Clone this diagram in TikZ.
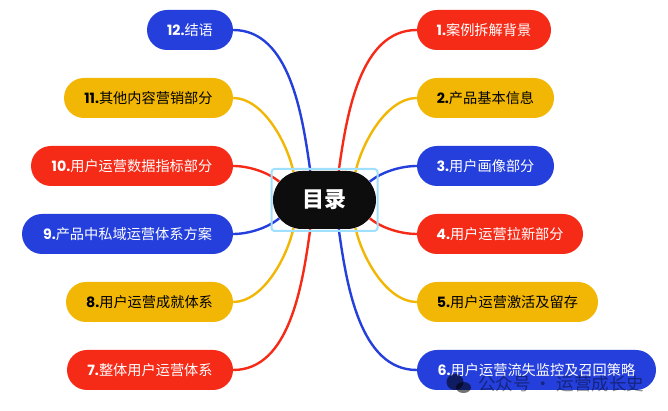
\documentclass[tikz,border=0pt]{standalone}
\usepackage{fontspec}
\setmainfont{Noto Sans CJK SC}
\newfontfamily\numfont{Poppins}
\usetikzlibrary{shapes.misc,backgrounds}
\definecolor{mapblue}{HTML}{243FDB}
\definecolor{mapred}{HTML}{F52A17}
\definecolor{mapyellow}{HTML}{F2B705}
\definecolor{mapblack}{HTML}{0D0D0D}
\definecolor{mapsel}{HTML}{9FE0FF}
\newcommand{\num}[1]{{\numfont\bfseries #1}}
\tikzset{
	pill/.style={rounded rectangle,rounded rectangle arc length=180,minimum height=40pt,inner sep=0pt,font=\fontsize{14.2}{16}\selectfont},
	bluepill/.style={pill,fill=mapblue,text=white},
	redpill/.style={pill,fill=mapred,text=white},
	yellowpill/.style={pill,fill=mapyellow,text=black},
	link/.style={line width=2.4pt},
	bubble/.style={fill=black,opacity=0.55},
	mark text/.style={text=black,opacity=0.42,inner sep=0pt,font=\fontsize{17.6}{19}\selectfont}
}
\begin{document}
\begin{tikzpicture}[x=1pt,y=1pt]
	\useasboundingbox (0,0) rectangle (668,411);

	\node[draw=mapsel,line width=2pt,rounded corners=3pt,minimum width=106pt,minimum height=62pt] (selbox) at (324.5,211) {};
	\node[rounded rectangle,rounded rectangle arc length=180,fill=mapblack,text=white,minimum width=103pt,minimum height=58pt,inner sep=0pt,font=\fontsize{22}{24}\bfseries\selectfont] (centre) at (324.5,211) {目录};

	\node[redpill,minimum width=134pt] (n1) at (484,381) {\num{1.}案例拆解背景};
	\node[yellowpill,minimum width=137pt] (n2) at (485.5,313) {\num{2.}产品基本信息};
	\node[bluepill,minimum width=137pt] (n3) at (485.5,245) {\num{3.}用户画像部分};
	\node[redpill,minimum width=166pt] (n4) at (500,177) {\num{4.}用户运营拉新部分};
	\node[yellowpill,minimum width=181pt] (n5) at (507.5,109) {\num{5.}用户运营激活及留存};
	\node[bluepill,minimum width=239pt] (n6) at (536.5,41) {\num{6.}用户运营流失监控及召回策略};

	\node[bluepill,minimum width=86pt] (n12) at (190,381) {\num{12.}结语};
	\node[yellowpill,minimum width=169pt] (n11) at (148.5,313) {\num{11.}其他内容营销部分};
	\node[redpill,minimum width=202pt] (n10) at (132,245) {\num{10.}用户运营数据指标部分};
	\node[bluepill,minimum width=211pt] (n9) at (127.5,177) {\num{9.}产品中私域运营体系方案};
	\node[yellowpill,minimum width=167pt] (n8) at (149.5,109) {\num{8.}用户运营成就体系};
	\node[redpill,minimum width=166pt] (n7) at (150,41) {\num{7.}整体用户运营体系};

	\begin{scope}[on background layer]
		\draw[link,mapred] (centre.64) to[out=82,in=180,looseness=0.9] (n1.west);
		\draw[link,mapyellow] (centre.42) to[out=78,in=180,looseness=0.8] (n2.west);
		\draw[link,mapblue] (centre.22) to[out=40,in=180,looseness=0.8] (n3.west);
		\draw[link,mapred] (centre.-22) to[out=-40,in=180,looseness=0.8] (n4.west);
		\draw[link,mapyellow] (centre.-42) to[out=-78,in=180,looseness=0.8] (n5.west);
		\draw[link,mapblue] (centre.-64) to[out=-82,in=180,looseness=0.9] (n6.west);

		\draw[link,mapblue] (centre.116) to[out=98,in=0,looseness=0.9] (n12.east);
		\draw[link,mapyellow] (centre.138) to[out=102,in=0,looseness=0.8] (n11.east);
		\draw[link,mapred] (centre.158) to[out=140,in=0,looseness=0.8] (n10.east);
		\draw[link,mapblue] (centre.-158) to[out=-140,in=0,looseness=0.8] (n9.east);
		\draw[link,mapyellow] (centre.-138) to[out=-102,in=0,looseness=0.8] (n8.east);
		\draw[link,mapred] (centre.-116) to[out=-98,in=0,looseness=0.9] (n7.east);
	\end{scope}

	\fill[bubble] (455,29) ellipse (8.5pt and 8pt);
	\fill[bubble] (463.5,23.5) ellipse (7.5pt and 5.5pt);
	\node[mark text,anchor=west] (wmark) at (478,27) {公众号 · 运营成长史};
\end{tikzpicture}
\end{document}
